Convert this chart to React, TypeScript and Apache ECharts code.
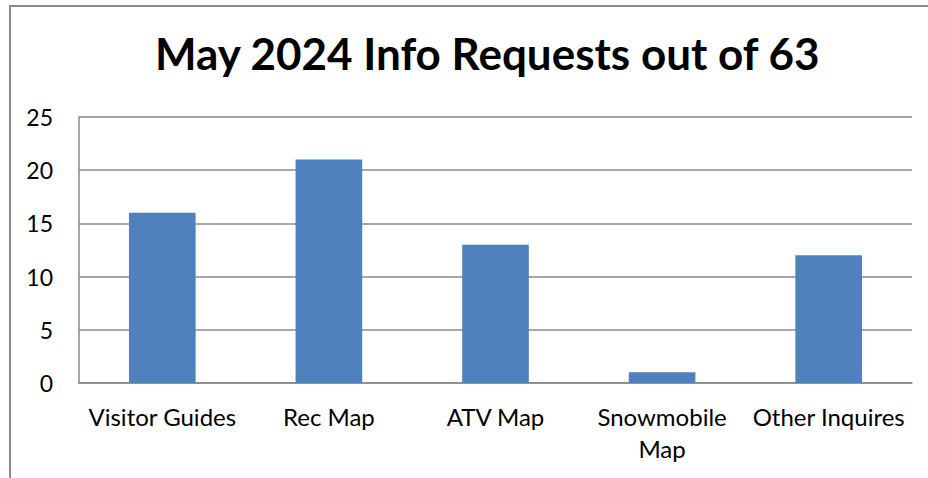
import React, { useEffect, useRef } from "react";
import * as echarts from "echarts";

const categories = ["Visitor Guides", "Rec Map", "ATV Map", "Snowmobile Map", "Other Inquires"];
const values = [16, 21, 13, 1, 12];
const titleText = "May 2024 Info Requests out of 63";

export default function App() {
  const ref = useRef<HTMLDivElement>(null);
  useEffect(() => {
    if (!ref.current) return;
    const chart = echarts.init(ref.current, null, { renderer: "svg" });
    const font = "Lato, 'Open Sans', sans-serif";
    chart.setOption({
      animation: false,
      backgroundColor: "#ffffff",
      title: {
        text: titleText,
        left: 150,
        top: 26,
        textStyle: { fontFamily: font, fontSize: 44, fontWeight: "bold", color: "#000000" },
      },
      graphic: [
        {
          type: "polyline",
          shape: { points: [[10, 480], [10, 6], [930, 6]] },
          style: { fill: "none", stroke: "#8a8a8a", lineWidth: 2, lineJoin: "miter" },
          silent: true,
        },
      ],
      grid: { left: 79, right: 16, top: 117, bottom: 95 },
      xAxis: {
        type: "category",
        data: categories,
        axisLine: { show: true, lineStyle: { color: "#8a8a8a", width: 1.5 } },
        axisTick: { show: false },
        axisLabel: {
          interval: 0,
          color: "#000000",
          fontFamily: font,
          fontSize: 24,
          lineHeight: 32,
          margin: 17,
          formatter: (v: string) => (v === "Snowmobile Map" ? "Snowmobile\nMap" : v),
        },
      },
      yAxis: {
        type: "value",
        min: 0,
        max: 25,
        interval: 5,
        axisLine: { show: true, lineStyle: { color: "#8a8a8a", width: 1.5 } },
        axisTick: { show: false },
        splitLine: { show: true, lineStyle: { color: "#8a8a8a", width: 1.5 } },
        axisLabel: { color: "#000000", fontFamily: font, fontSize: 23, margin: 26 },
      },
      series: [
        {
          type: "bar",
          data: values,
          barWidth: "40%",
          itemStyle: { color: "#4f81bd" },
        },
      ],
    });
    return () => chart.dispose();
  }, []);
  return (
    <div
      ref={ref}
      style={{ position: "fixed", left: 0, top: 0, width: 928, height: 478 }}
    />
  );
}
